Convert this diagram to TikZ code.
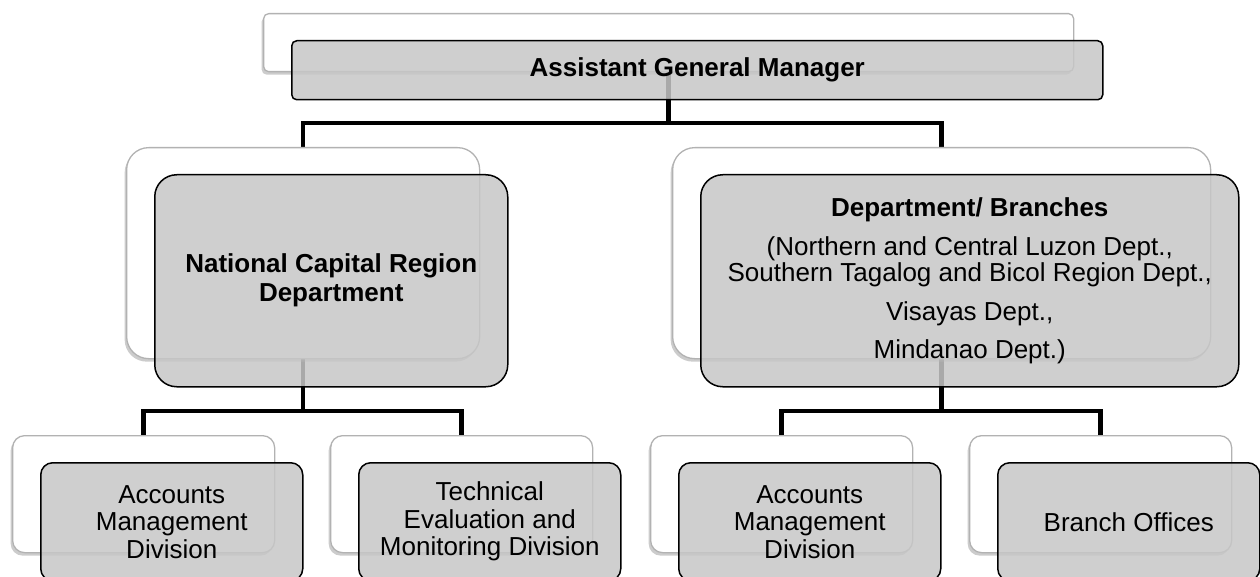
\documentclass[tikz,border=0pt]{standalone}
\usepackage{fontspec}
\setmainfont{Liberation Sans}
\usetikzlibrary{positioning, shadows, backgrounds}

\begin{document}
\begin{tikzpicture}[x=1pt, y=1pt,
		backbox/.style={
			rectangle,
			rounded corners=#1,
			draw=black!30, line width=1.3pt,
			fill=white,
			drop shadow={shadow xshift=-2pt, shadow yshift=-3pt, opacity=0.4},
			anchor=north west, inner sep=0pt},
		backbox/.default=12pt,
		frontbox/.style={
			rectangle,
			rounded corners=#1,
			draw=black, line width=1.5pt,
			fill=black!22, fill opacity=0.85, text opacity=1,
			inner sep=0pt, align=center,
			font=\fontsize{26}{27.5}\selectfont},
		frontbox/.default=12pt,
		connector/.style={draw=black, line width=4.5pt},
		node distance=27pt and 28pt]
		\useasboundingbox (0,0) rectangle (1260,-577);
		\clip (0,0) rectangle (1260,-577);
		\node[backbox=5pt, minimum width=810pt, minimum height=58pt] (agmback) at (263,-13) {};
		\node[frontbox=5pt, minimum width=811pt, minimum height=59pt, below right=of agmback.north west, font=\fontsize{26}{28}\selectfont\bfseries] (agm) {Assistant General Manager};
		\node[backbox=22pt, minimum width=353pt, minimum height=211pt] (ncrback) at (126,-147) {};
		\node[frontbox=22pt, minimum width=353pt, minimum height=212pt, below right=of ncrback.north west, font=\fontsize{26}{29}\selectfont\bfseries] (ncr) {National Capital Region\\Department};
		\node[backbox=22pt, minimum width=538pt, minimum height=211pt] (deptback) at (672,-147) {};
		\node[frontbox=22pt, minimum width=538pt, minimum height=212pt, below right=of deptback.north west, font=\fontsize{26}{26}\selectfont] (dept) {\textbf{Department/ Branches}\\[13pt](Northern and Central Luzon Dept.,\\Southern Tagalog and Bicol Region Dept.,\\[13pt]Visayas Dept.,\\[12pt]Mindanao Dept.)};
		\node[backbox, minimum width=262pt, minimum height=117pt] (amdlback) at (12,-435) {};
		\node[frontbox, minimum width=262pt, minimum height=118pt, below right=of amdlback.north west] (amdl) {Accounts\\Management\\Division};
		\node[backbox, minimum width=262pt, minimum height=117pt] (temdback) at (330,-435) {};
		\node[frontbox, minimum width=262pt, minimum height=118pt, below right=of temdback.north west] (temd) {Technical\\Evaluation and\\Monitoring Division};
		\node[backbox, minimum width=262pt, minimum height=117pt] (amdrback) at (650,-435) {};
		\node[frontbox, minimum width=262pt, minimum height=118pt, below right=of amdrback.north west] (amdr) {Accounts\\Management\\Division};
		\node[backbox, minimum width=262pt, minimum height=117pt] (boback) at (969,-435) {};
		\node[frontbox, minimum width=262pt, minimum height=118pt, below right=of boback.north west] (bo) {Branch Offices};
		\coordinate (bus1) at (0,-123);
		\coordinate (bus2) at (0,-411);
		\begin{pgfonlayer}{background}
		\draw [connector] (agmback.center) |- (bus1 -| ncrback.center) -- (ncrback.center);
		\draw [connector] (agmback.center) |- (bus1 -| deptback.center) -- (deptback.center);
		\draw [connector] (ncrback.center) |- (bus2 -| amdlback.center) -- (amdlback.center);
		\draw [connector] (ncrback.center) |- (bus2 -| temdback.center) -- (temdback.center);
		\draw [connector] (deptback.center) |- (bus2 -| amdrback.center) -- (amdrback.center);
		\draw [connector] (deptback.center) |- (bus2 -| boback.center) -- (boback.center);
		\end{pgfonlayer}
		\end{tikzpicture}
\end{document}
